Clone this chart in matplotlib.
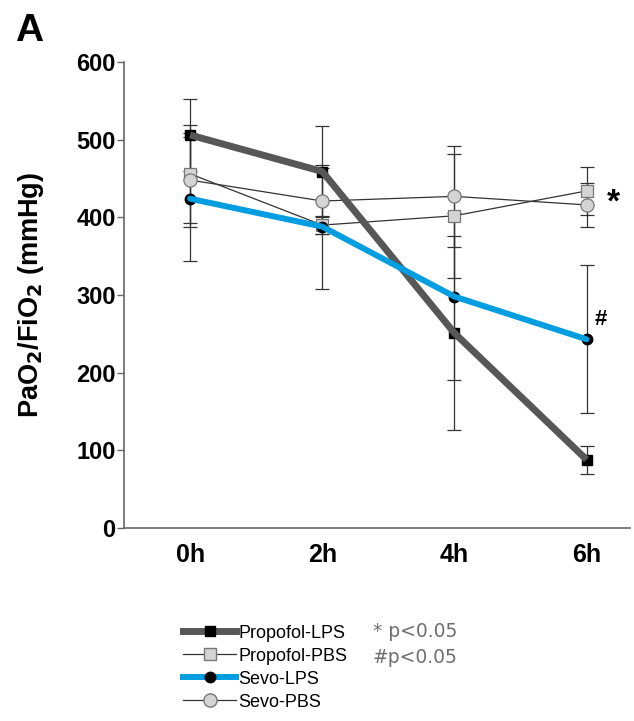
import numpy as np
import matplotlib.pyplot as plt
from matplotlib.lines import Line2D

plt.rcParams['font.family'] = ['Liberation Sans', 'DejaVu Sans']

# time points
hours = ['0h', '2h', '4h', '6h']

# mean PaO2/FiO2 and SD per group
prop_lps = [506, 459, 251, 88]
prop_lps_sd = [46, 58, 125, 18]
prop_pbs = [456, 390, 402, 434]
prop_pbs_sd = [63, 12, 80, 31]
sevo_lps = [424, 388, 298, 243]
sevo_lps_sd = [80, 80, 107, 95]
sevo_pbs = [448, 421, 427, 416]
sevo_pbs_sd = [60, 43, 65, 28]

x = np.arange(len(hours))

fig = plt.figure(figsize=(6.34, 7.21), dpi=100)
ax = fig.add_axes([0.1956, 0.2677, 0.7984, 0.6463])

eb = dict(fmt='none', ecolor='#333333', elinewidth=0.9, capsize=5, capthick=0.9)
ax.errorbar(x, prop_lps, yerr=prop_lps_sd, zorder=2, **eb)
ax.errorbar(x, prop_pbs, yerr=prop_pbs_sd, zorder=2, **eb)
ax.errorbar(x, sevo_lps, yerr=sevo_lps_sd, zorder=2, **eb)
ax.errorbar(x, sevo_pbs, yerr=sevo_pbs_sd, zorder=2, **eb)

# PBS groups: thin lines, light markers
ax.plot(x, prop_pbs, color='#333333', lw=0.9, marker='s', ms=9,
        mfc='#d4d4d4', mec='#777777', mew=0.9, zorder=3)
ax.plot(x, sevo_pbs, color='#333333', lw=0.9, marker='o', ms=9.5,
        mfc='#d4d4d4', mec='#777777', mew=0.9, zorder=3)

# LPS groups: markers under thick lines
ax.plot(x, prop_lps, ls='none', marker='s', ms=7, color='black', zorder=4)
ax.plot(x, prop_lps, color='#575757', lw=5, solid_capstyle='butt', zorder=5)
ax.plot(x, sevo_lps, ls='none', marker='o', ms=7.5, color='black', zorder=4)
ax.plot(x, sevo_lps, color='#009ee0', lw=4.3, solid_capstyle='round', zorder=6)

ax.text(3.15, 418, '*', fontsize=24, fontweight='bold', va='center', ha='left')
ax.text(3.06, 268, '#', fontsize=16, fontweight='bold', va='center', ha='left')

ax.set_xlim(-0.5, 3.33)
ax.set_ylim(0, 600)
ax.set_yticks(range(0, 601, 100))
ax.set_xticks(x)
ax.set_xticklabels(hours)
ax.tick_params(axis='y', length=5, width=1, color='#666666', labelsize=17, pad=1)
ax.tick_params(axis='x', length=0, labelsize=18, pad=11)
for lab in ax.get_xticklabels() + ax.get_yticklabels():
    lab.set_fontweight('bold')
for s in ['top', 'right']:
    ax.spines[s].set_visible(False)
for s in ['left', 'bottom']:
    ax.spines[s].set_color('#666666')
    ax.spines[s].set_linewidth(1.2)

ax.set_ylabel('PaO$_\\mathbf{2}$/FiO$_\\mathbf{2}$ (mmHg)', fontsize=19.5,
              fontweight='bold', labelpad=22)

fig.text(0.024, 0.957, 'A', fontsize=28, fontweight='bold', va='center')

handles = [
    Line2D([], [], color='#575757', lw=5, marker='s', ms=7, mfc='black', mec='black'),
    Line2D([], [], color='#333333', lw=0.9, marker='s', ms=9, mfc='#d4d4d4', mec='#777777'),
    Line2D([], [], color='#009ee0', lw=4.3, marker='o', ms=7.5, mfc='black', mec='black'),
    Line2D([], [], color='#333333', lw=0.9, marker='o', ms=9.5, mfc='#d4d4d4', mec='#777777'),
]
labels = ['Propofol-LPS', 'Propofol-PBS', 'Sevo-LPS', 'Sevo-PBS']
fig.legend(handles, labels, loc='upper left', bbox_to_anchor=(0.275, 0.146),
           frameon=False, fontsize=13, handlelength=2.9, handletextpad=0.15,
           labelspacing=0.33, borderpad=0)

fig.text(0.588, 0.124, '* p<0.05', fontsize=13.5, color='#6e6e6e', va='center',
         family='DejaVu Sans')
fig.text(0.588, 0.088, '#p<0.05', fontsize=13.5, color='#6e6e6e', va='center',
         family='DejaVu Sans')

fig.savefig('out.png', dpi=100)
